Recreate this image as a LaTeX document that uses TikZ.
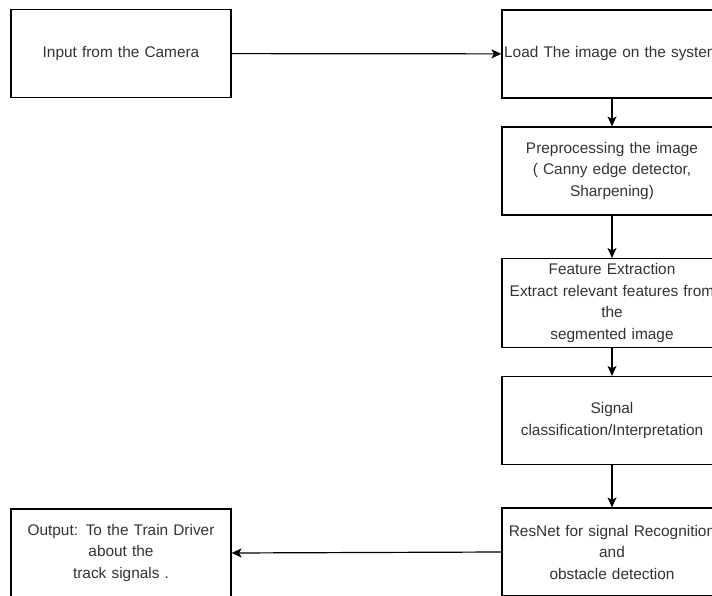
\documentclass[tikz,border=0pt]{standalone}
\usepackage{fontspec}
\setmainfont{Liberation Sans}
\usetikzlibrary{arrows.meta}
\definecolor{boxtext}{HTML}{333333}
\begin{document}
\begin{tikzpicture}[
        x=1pt, y=-1pt,
        box/.style={
            rectangle,
            draw=black,
            fill=white,
            line width=1.2pt,
            minimum width=220pt,
            minimum height=88pt,
            text width=220pt,
            inner xsep=0pt,
            inner ysep=5pt,
            align=center,
            text=boxtext,
            font=\fontsize{15.4}{21.5}\selectfont
        },
        flow/.style={
            line width=1.2pt,
            -{Stealth[length=10pt,width=9pt,inset=2.5pt]}
        }
    ]
    \clip (0,0) rectangle (712,596);
    \useasboundingbox (0,0) rectangle (712,596);

    % Boxes
    \node[box] (cam)  at (121,53.5) {Input from the Camera};
    \node[box] (load) at (612,54)   {Load The image on the system};
    \node[box] (pre)  at (612,171)  {Preprocessing the image\\( Canny edge detector,\\Sharpening)};
    \node[box] (feat) at (612,303)  {Feature Extraction\\Extract relevant features from\\the\\segmented image};
    \node[box] (sig)  at (612,420.5) {Signal\\classification/Interpretation};
    \node[box] (res)  at (612,552)  {ResNet for signal Recognition\\and\\obstacle detection};
    \node[box] (out)  at (121,553)  {Output: To the Train Driver\\about the\\track signals .};

    % Arrows
    \draw[flow] (cam) -- (load);
    \draw[flow] (load) -- (pre);
    \draw[flow] (pre) -- (feat);
    \draw[flow] (feat) -- (sig);
    \draw[flow] (sig) -- (res);
    \draw[flow] (res.west) -- (out.east);

\end{tikzpicture}
\end{document}
